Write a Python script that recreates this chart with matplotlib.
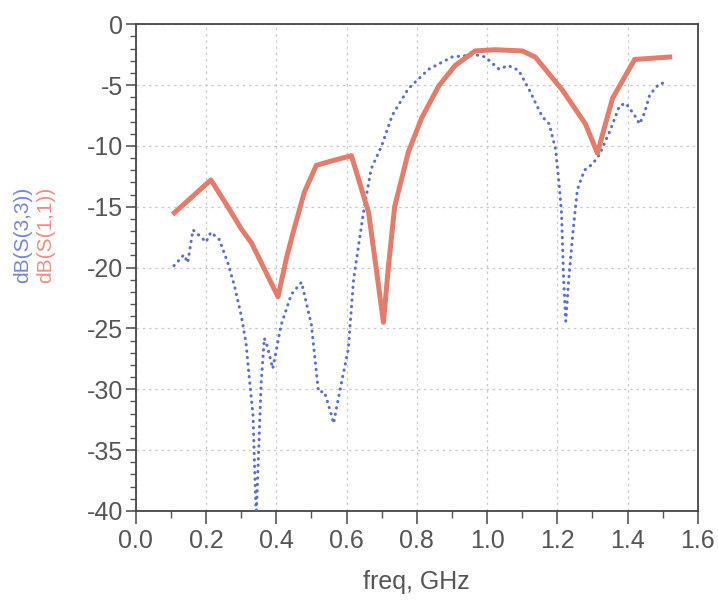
import numpy as np
import matplotlib
matplotlib.use("Agg")
import matplotlib.pyplot as plt
from matplotlib.ticker import MultipleLocator

plt.rcParams['font.family'] = ['Liberation Sans', 'DejaVu Sans']
plt.rcParams['axes.unicode_minus'] = False

# S(1,1) - solid red trace
s11_freq = [0.11, 0.16, 0.214, 0.26, 0.30, 0.33, 0.405, 0.43, 0.452, 0.48, 0.514,
            0.55, 0.614, 0.663, 0.685, 0.705, 0.72, 0.737, 0.776, 0.814, 0.862,
            0.909, 0.966, 1.023, 1.10, 1.137, 1.214, 1.28, 1.314, 1.357, 1.42, 1.52]
s11_db = [-15.5, -14.2, -12.8, -14.9, -16.8, -18.0, -22.4, -19.1, -16.7, -13.8, -11.6,
          -11.3, -10.8, -15.5, -20.2, -24.5, -19.7, -15.0, -10.5, -7.7, -5.1,
          -3.4, -2.2, -2.1, -2.2, -2.7, -5.4, -8.2, -10.6, -6.1, -2.9, -2.7]

# S(3,3) - dotted blue trace
s33_freq = [0.109, 0.137, 0.148, 0.163, 0.186, 0.2, 0.214, 0.238, 0.262, 0.281, 0.30,
            0.314, 0.32, 0.334, 0.338, 0.343, 0.35, 0.357, 0.366, 0.375, 0.39, 0.414,
            0.443, 0.472, 0.5, 0.52, 0.537, 0.557, 0.563, 0.586, 0.605, 0.62, 0.648,
            0.67, 0.70, 0.73, 0.776, 0.834, 0.9, 0.966, 0.995, 1.034, 1.06, 1.09,
            1.12, 1.157, 1.177, 1.195, 1.205, 1.212, 1.218, 1.224, 1.232, 1.245,
            1.257, 1.277, 1.3, 1.32, 1.348, 1.377, 1.395, 1.42, 1.434, 1.448, 1.463,
            1.49, 1.509]
s33_db = [-19.85, -18.95, -19.6, -16.9, -17.5, -17.9, -17.1, -17.7, -19.6, -21.5, -23.9,
          -26.2, -28.1, -32.2, -36.0, -40.5, -35.0, -29.5, -25.8, -26.5, -28.3, -24.7,
          -22.2, -21.2, -24.7, -30.2, -30.2, -32.1, -32.8, -29.4, -26.7, -21.0, -15.5,
          -11.9, -10.0, -7.5, -5.3, -3.7, -2.7, -2.5, -2.7, -3.7, -3.4, -3.8,
          -5.4, -7.6, -8.2, -10.3, -13.1, -15.6, -21.1, -24.4, -21.1, -16.9,
          -13.6, -12.0, -11.5, -10.7, -8.9, -6.7, -6.5, -7.5, -8.2, -7.3, -5.8,
          -4.9, -4.8]

x_ticks = [0.0, 0.2, 0.4, 0.6, 0.8, 1.0, 1.2, 1.4, 1.6]
y_ticks = [0, -5, -10, -15, -20, -25, -30, -35, -40]

blue = '#5a6ecc'
red = '#e47c6c'
gray = '#555555'

fig = plt.figure(figsize=(7.18, 6.04), dpi=100)
ax = fig.add_axes([0.189, 0.154, 0.783, 0.806])

ax.plot(s33_freq, s33_db, color=blue, lw=2.2, linestyle=(0, (0.1, 2.0)),
        dash_capstyle='round', zorder=3)
ax.plot(s11_freq, s11_db, color=red, lw=3.6, solid_joinstyle='round', zorder=4)

ax.set_xlim(0, 1.6)
ax.set_ylim(-40, 0)
ax.set_xticks(x_ticks)
ax.set_yticks(y_ticks)
ax.set_xticklabels([f'{v:.1f}' for v in x_ticks])
ax.xaxis.set_minor_locator(MultipleLocator(0.1))
ax.yaxis.set_minor_locator(MultipleLocator(1))

ax.tick_params(axis='both', which='major', direction='out', colors=gray,
               labelsize=18, width=1.2)
ax.tick_params(axis='y', which='major', length=7, pad=2)
ax.tick_params(axis='y', which='minor', length=4, width=1.0, color=gray)
ax.tick_params(axis='x', which='major', length=9, pad=4)
ax.tick_params(axis='x', which='minor', length=5, width=1.0, color=gray)

for sp in ax.spines.values():
    sp.set_color('#444444')
    sp.set_linewidth(1.3)

ax.grid(True, which='major', color='#c8c8c8', linestyle=(0, (2, 3)), lw=0.9)
ax.set_axisbelow(True)

ax.set_xlabel('freq, GHz', fontsize=18, color=gray, labelpad=12)

# stacked y labels, one per trace
fig.text(0.031, 0.611, 'dB(S(3,3))', rotation=90, color='#7585d6', fontsize=15,
         ha='center', va='center')
fig.text(0.063, 0.611, 'dB(S(1,1))', rotation=90, color='#ea8f84', fontsize=15,
         ha='center', va='center')

fig.savefig('out.png', dpi=100)
